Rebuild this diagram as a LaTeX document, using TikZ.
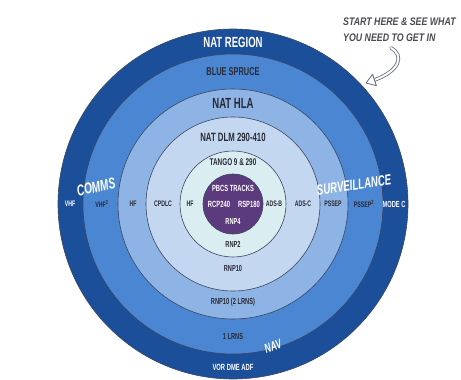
\documentclass[tikz,border=0pt]{standalone}
\usepackage{fontspec}
\newfontfamily\cond[FakeStretch=0.65]{Liberation Sans}
\newfontfamily\condb[FakeStretch=0.8]{Liberation Sans}
\definecolor{ringA}{HTML}{1B4F9A}
\definecolor{ringB}{HTML}{4A86D2}
\definecolor{ringC}{HTML}{8DB4E4}
\definecolor{ringD}{HTML}{C3D7F1}
\definecolor{ringE}{HTML}{DAEEF2}
\definecolor{core}{HTML}{5C3A7E}
\definecolor{ink}{HTML}{2A2A36}
\definecolor{edge}{HTML}{3C4660}
\tikzset{
  ring/.style={draw=edge, line width=0.6pt},
  lab/.style={font=\cond\bfseries\fontsize{#1}{#1}\selectfont, text=ink, inner sep=0pt},
  wlab/.style={font=\cond\bfseries\fontsize{#1}{#1}\selectfont, text=white, inner sep=0pt},
  tag/.style={font=\cond\bfseries\itshape\fontsize{#1}{#1}\selectfont, text=white, inner sep=0pt},
  note/.style={font=\condb\bfseries\itshape\fontsize{11}{11}\selectfont, text=ink!85, inner sep=0pt, anchor=west},
}
\begin{document}
\begin{tikzpicture}[x=1pt,y=-1pt]
\useasboundingbox (0,0) rectangle (461,380);
\coordinate (c) at (233,204);
\fill[white] (0,0) rectangle (461,380);
\filldraw[ring, fill=ringA] (c) circle[radius=175pt];
\filldraw[ring, fill=ringB] (c) circle[radius=150pt];
\filldraw[ring, fill=ringC] (c) circle[radius=115pt];
\filldraw[ring, fill=ringD] (c) circle[radius=87pt];
\filldraw[ring, fill=ringE] (c) circle[radius=53pt];
\filldraw[ring, fill=core] (c) circle[radius=30pt];
% top labels
\node[wlab=14.7] (nr) at (233,42) {NAT REGION};
\node[lab=11.4] (bs) at (233,72) {BLUE SPRUCE};
\node[lab=14.7] (hla) at (233,103) {NAT HLA};
\node[lab=12] (dlm) at (233,137) {NAT DLM 290-410};
\node[lab=9.8] (tg) at (233,162) {TANGO 9 \& 290};
\node[wlab=8.9] (pb) at (233,188) {PBCS TRACKS};
\node[wlab=9] (rcp) at (219,204) {RCP240};
\node[wlab=9] (rsp) at (249,204) {RSP180};
\node[wlab=8.7] (rn4) at (233,222) {RNP4};
% bottom labels
\node[lab=8.7] (rn2) at (233,244) {RNP2};
\node[lab=8.7] (rn10) at (233,269) {RNP10};
\node[lab=8.8] (rn10b) at (233,302) {RNP10 (2 LRNS)};
\node[lab=8.7] (lr1) at (233,337) {1 LRNS};
\node[wlab=9] (vor) at (233,367) {VOR DME ADF};
% left labels
\node[wlab=8] (l1) at (70,204) {VHF};
\node[lab=8] (l2) at (102,204) {VHF\textsuperscript{2}};
\node[lab=8] (l3) at (133,204) {HF};
\node[lab=8] (l4) at (163,204) {CPDLC};
\node[lab=8] (l5) at (190,204) {HF};
% right labels
\node[lab=8] (r1) at (274,204) {ADS-B};
\node[lab=8] (r2) at (303,204) {ADS-C};
\node[lab=8] (r3) at (333,204) {PSSEP};
\node[lab=8] (r4) at (364,204) {PSSEP\textsuperscript{2}};
\node[wlab=8.8] (r5) at (394,204) {MODE C};
% category tags
\node[tag=15.6, rotate=12] (comms) at (96,187) {COMMS};
\node[tag=14.8, rotate=8] (surv) at (354,185) {SURVEILLANCE};
\node[tag=13, rotate=20] (nav) at (273,346) {NAV};
% callout
\node[note] (n1) at (343,22) {START HERE \& SEE WHAT};
\node[note] (n2) at (343,38) {YOU NEED TO GET IN};
\coordinate (a0) at (391,48);
\coordinate (a1) at (374.5,80);
\draw[edge!80, line width=3.6pt, line cap=round] (a0) .. controls (405,56) and (399,71) .. (a1);
\draw[white, line width=2pt, line cap=round] (a0) .. controls (405,56) and (399,71) .. (a1);
\filldraw[fill=white, draw=edge!80, line width=0.8pt, line join=round] (366,83) -- (376.4,85.7) -- (372.6,74.3) -- cycle;
\end{tikzpicture}
\end{document}
